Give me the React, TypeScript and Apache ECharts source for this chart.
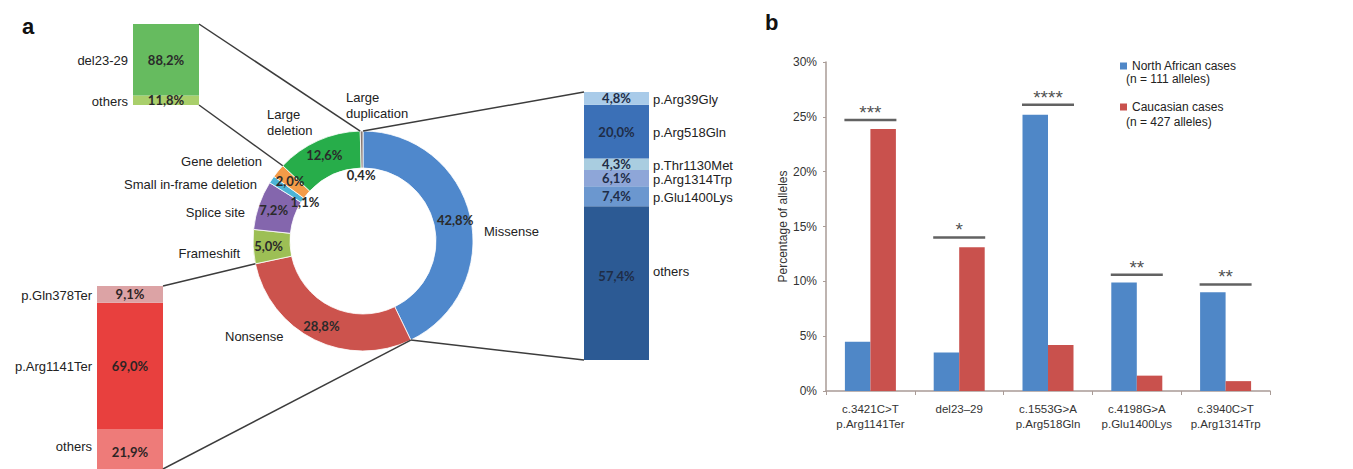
import React, { useEffect, useRef } from "react";
import * as echarts from "echarts";

// ---------- data ----------
const mutationTypes = ["Missense", "Nonsense", "Frameshift", "Splice site", "Small in-frame deletion", "Gene deletion", "Large deletion", "Large duplication"];
const mutationShares = [42.8, 28.8, 5.0, 7.2, 1.1, 2.0, 12.6, 0.4];
const mutationColors = ["#4f88cc", "#cc534d", "#9dbf55", "#8466ad", "#4cb3d6", "#f39b48", "#27ad4a", "#8a7a74"];

// breakdown bars, listed bottom to top
const largeDelNames = ["others", "del23-29"];
const largeDelShares = [11.8, 88.2];
const largeDelColors = ["#a9cf6b", "#66bb5f"];

const missenseNames = ["others", "p.Glu1400Lys", "p.Arg1314Trp", "p.Thr1130Met", "p.Arg518Gln", "p.Arg39Gly"];
const missenseShares = [57.4, 7.4, 6.1, 4.3, 20.0, 4.8];
const missenseColors = ["#2c5a94", "#6b97cf", "#8ea6d8", "#a9cde0", "#3b70b7", "#a9cbe9"];

const nonsenseNames = ["others", "p.Arg1141Ter", "p.Gln378Ter"];
const nonsenseShares = [21.9, 69.0, 9.1];
const nonsenseColors = ["#ee7b79", "#e8403e", "#dca3a5"];

const variantLabels = ["c.3421C>T\np.Arg1141Ter", "del23\u201329", "c.1553G>A\np.Arg518Gln", "c.4198G>A\np.Glu1400Lys", "c.3940C>T\np.Arg1314Trp"];
const northAfrican = [4.5, 3.5, 25.2, 9.9, 9.0];
const caucasian = [23.9, 13.1, 4.2, 1.4, 0.9];
const sigLevel = [24.7, 14.0, 26.1, 10.6, 9.7];
const sigStars = ["***", "*", "****", "**", "**"];
const legendNames = ["North African cases", "Caucasian cases"];
const legendSub = ["(n = 111 alleles)", "(n = 427 alleles)"];

// ---------- layout ----------
const PIE_CX = 363;
const PIE_CY = 241;
const R_IN = 73;
const R_OUT = 110;
const GA = { left: 133, top: 24, width: 66, height: 81 };
const GB = { left: 584, top: 92, width: 65, height: 268 };
const GC = { left: 97, top: 286, width: 66, height: 183 };
const GM = { left: 826, top: 62, width: 444, height: 329 };

const SANS = "Liberation Sans, Arial, sans-serif";
const PCTFONT = "Lato, Noto Sans, sans-serif";
const fmtPct = (v: number) => v.toFixed(1).replace(".", ",") + "%";

const total = mutationShares.reduce((a, b) => a + b, 0);
const cumBefore = (i: number) => mutationShares.slice(0, i).reduce((a, b) => a + b, 0);
const ringPoint = (cum: number, r: number) => {
  const a = (cum / total) * 2 * Math.PI;
  return [PIE_CX + r * Math.sin(a), PIE_CY - r * Math.cos(a)];
};

function segCenters(g: { top: number; height: number }, vals: number[]) {
  const out: number[] = [];
  let c = 0;
  for (const v of vals) {
    out.push(g.top + g.height * (1 - (c + v / 2) / 100));
    c += v;
  }
  return out;
}

function stackSeries(idx: number, names: string[], vals: number[], colors: string[], labelColor: string, offsets: number[] = []) {
  return vals.map((v, i) => ({
    type: "bar",
    name: names[i] + "_" + idx,
    xAxisIndex: idx,
    yAxisIndex: idx,
    stack: "s" + idx,
    barWidth: "100%",
    data: [v],
    itemStyle: { color: colors[i] },
    label: {
      show: true,
      position: "inside",
      offset: [0, offsets[i] || 0],
      formatter: () => fmtPct(v),
      fontFamily: PCTFONT,
      fontWeight: "bold",
      fontSize: 13,
      color: labelColor,
    },
    silent: true,
  }));
}

function line(p1: number[], p2: number[]) {
  return {
    type: "line",
    shape: { x1: p1[0], y1: p1[1], x2: p2[0], y2: p2[1] },
    style: { stroke: "#3c3c3c", lineWidth: 1.5 },
    z: 10,
  };
}

function txt(x: number, y: number, text: string, align: string, extra: any = {}) {
  return {
    type: "text",
    x,
    y,
    style: {
      text,
      fill: "#222",
      font: `13px ${SANS}`,
      textAlign: align,
      textVerticalAlign: "middle",
      ...extra,
    },
    z: 20,
  };
}

export default function App() {
  const ref = useRef<HTMLDivElement>(null);
  useEffect(() => {
    if (!ref.current) return;
    const chart = echarts.init(ref.current, undefined, { renderer: "svg" });

    const grids = [GA, GB, GC, GM];
    const xAxes: any[] = [0, 1, 2].map((i) => ({ type: "category", gridIndex: i, data: ["x"], show: false }));
    xAxes.push({
      type: "category",
      gridIndex: 3,
      data: variantLabels,
      axisLine: { lineStyle: { color: "#a99b96", width: 1.5 } },
      axisTick: { show: true, length: 4, interval: 0, lineStyle: { color: "#a99b96" } },
      axisLabel: { interval: 0, fontSize: 11.5, lineHeight: 15, color: "#333", margin: 10, fontFamily: SANS },
    });
    const yAxes: any[] = [0, 1, 2].map((i) => ({ type: "value", gridIndex: i, min: 0, max: 100, show: false }));
    yAxes.push({
      type: "value",
      gridIndex: 3,
      min: 0,
      max: 30,
      interval: 5,
      name: "Percentage of alleles",
      nameLocation: "middle",
      nameGap: 37,
      nameTextStyle: { fontSize: 12, color: "#333", fontFamily: SANS },
      axisLine: { show: true, lineStyle: { color: "#a99b96", width: 1.5 } },
      axisTick: { show: true, length: 3, lineStyle: { color: "#a99b96" } },
      axisLabel: { formatter: "{value}%", fontSize: 12, color: "#333", margin: 9, fontFamily: SANS },
      splitLine: { show: false },
    });

    const pieData = mutationTypes.map((n, i) => ({
      name: n,
      value: mutationShares[i],
      itemStyle: { color: mutationColors[i] },
      label: { show: !(i === 4 || i === 7) },
    }));

    const graphics: any[] = [];
    graphics.push(txt(22, 26, "a", "left", { font: `bold 22px ${SANS}`, fill: "#111" }));
    graphics.push(txt(765, 22, "b", "left", { font: `bold 22px ${SANS}`, fill: "#111" }));

    // donut category names
    graphics.push(txt(346, 97, "Large", "left"));
    graphics.push(txt(346, 113, "duplication", "left"));
    graphics.push(txt(267, 114, "Large", "left"));
    graphics.push(txt(267, 130, "deletion", "left"));
    graphics.push(txt(262, 161, "Gene deletion", "right"));
    graphics.push(txt(257, 184, "Small in-frame deletion", "right"));
    graphics.push(txt(245, 212, "Splice site", "right"));
    graphics.push(txt(240, 253, "Frameshift", "right"));
    graphics.push(txt(225, 336, "Nonsense", "left"));
    graphics.push(txt(484, 231, "Missense", "left"));

    // tiny segment labels placed in the hole
    const pctStyle = { font: `bold 13px ${PCTFONT}`, fill: "#2a2a2a" };
    const p11 = ringPoint(cumBefore(4) + mutationShares[4] / 2, 70);
    graphics.push(txt(p11[0], p11[1], fmtPct(mutationShares[4]), "center", pctStyle));
    const p04 = ringPoint(cumBefore(7) + mutationShares[7] / 2, 66);
    graphics.push(txt(p04[0] - 1, p04[1], fmtPct(mutationShares[7]), "center", pctStyle));

    // breakdown names
    segCenters(GA, largeDelShares).forEach((y, i) => graphics.push(txt(GA.left - 5, y + 1, largeDelNames[i], "right")));
    segCenters(GB, missenseShares).forEach((y, i) =>
      graphics.push(txt(GB.left + GB.width + 4, i === 0 ? y - 12 : y + 1, missenseNames[i], "left"))
    );
    segCenters(GC, nonsenseShares).forEach((y, i) =>
      graphics.push(txt(GC.left - 5, i === 0 ? y - 2 : y + 1, nonsenseNames[i], "right"))
    );

    // connectors
    const ldStart = cumBefore(6), ldEnd = cumBefore(7);
    const msStart = 0, msEnd = cumBefore(1);
    const nsStart = cumBefore(1), nsEnd = cumBefore(2);
    graphics.push(line([GA.left + GA.width, GA.top], ringPoint(ldEnd, R_OUT)));
    graphics.push(line([GA.left + GA.width, GA.top + GA.height], ringPoint(ldStart, R_OUT)));
    graphics.push(line([GB.left, GB.top], ringPoint(msStart, R_OUT)));
    graphics.push(line([GB.left, GB.top + GB.height], ringPoint(msEnd, R_OUT)));
    graphics.push(line([GC.left + GC.width, GC.top], ringPoint(nsEnd, R_OUT)));
    graphics.push(line([GC.left + GC.width, GC.top + GC.height], ringPoint(nsStart, R_OUT)));

    // legend sub-lines
    graphics.push(txt(1126, 79, legendSub[0], "left", { font: `12px ${SANS}` }));
    graphics.push(txt(1126, 122, legendSub[1], "left", { font: `12px ${SANS}` }));

    chart.setOption({
      animation: false,
      backgroundColor: "#fff",
      grid: grids.map((g) => ({ ...g, containLabel: false })),
      xAxis: xAxes,
      yAxis: yAxes,
      legend: {
        data: legendNames,
        orient: "vertical",
        left: 1115,
        top: 55,
        itemWidth: 7,
        itemHeight: 7,
        itemGap: 29,
        icon: "rect",
        textStyle: { fontSize: 12, color: "#222", fontFamily: SANS },
        selectedMode: false,
      },
      series: [
        {
          type: "pie",
          center: [PIE_CX, PIE_CY],
          radius: [R_IN, R_OUT],
          startAngle: 90,
          clockwise: true,
          avoidLabelOverlap: false,
          silent: true,
          data: pieData,
          itemStyle: { borderColor: "#fff", borderWidth: 0.8 },
          label: {
            position: "inside",
            formatter: (p: any) => fmtPct(p.value),
            fontFamily: PCTFONT,
            fontWeight: "bold",
            fontSize: 13,
            color: "#2a2a2a",
          },
          labelLine: { show: false },
        },
        ...stackSeries(0, largeDelNames, largeDelShares, largeDelColors, "#2a2a2a"),
        ...stackSeries(1, missenseNames, missenseShares, missenseColors, "#1f2d47", [-7]),
        ...stackSeries(2, nonsenseNames, nonsenseShares, nonsenseColors, "#2d2424", [3]),
        {
          type: "bar",
          name: legendNames[0],
          xAxisIndex: 3,
          yAxisIndex: 3,
          data: northAfrican,
          barWidth: 25.5,
          barGap: "0%",
          itemStyle: { color: "#4f87c7" },
          silent: true,
        },
        {
          type: "bar",
          name: legendNames[1],
          xAxisIndex: 3,
          yAxisIndex: 3,
          data: caucasian,
          barWidth: 25.5,
          barGap: "0%",
          itemStyle: { color: "#c9514d" },
          silent: true,
        },
        {
          type: "scatter",
          name: "sig",
          xAxisIndex: 3,
          yAxisIndex: 3,
          data: sigLevel,
          symbol: "rect",
          symbolSize: [52, 2.5],
          itemStyle: { color: "#3b3b3b" },
          label: {
            show: true,
            position: "top",
            distance: -3,
            formatter: (p: any) => sigStars[p.dataIndex],
            fontSize: 19,
            color: "#222",
            fontFamily: SANS,
          },
          silent: true,
          z: 5,
        },
      ],
      graphic: graphics,
    });
    return () => chart.dispose();
  }, []);
  return (
    <div
      ref={ref}
      style={{ position: "fixed", left: 0, top: 0, width: 1353, height: 469, background: "#fff" }}
    />
  );
}
